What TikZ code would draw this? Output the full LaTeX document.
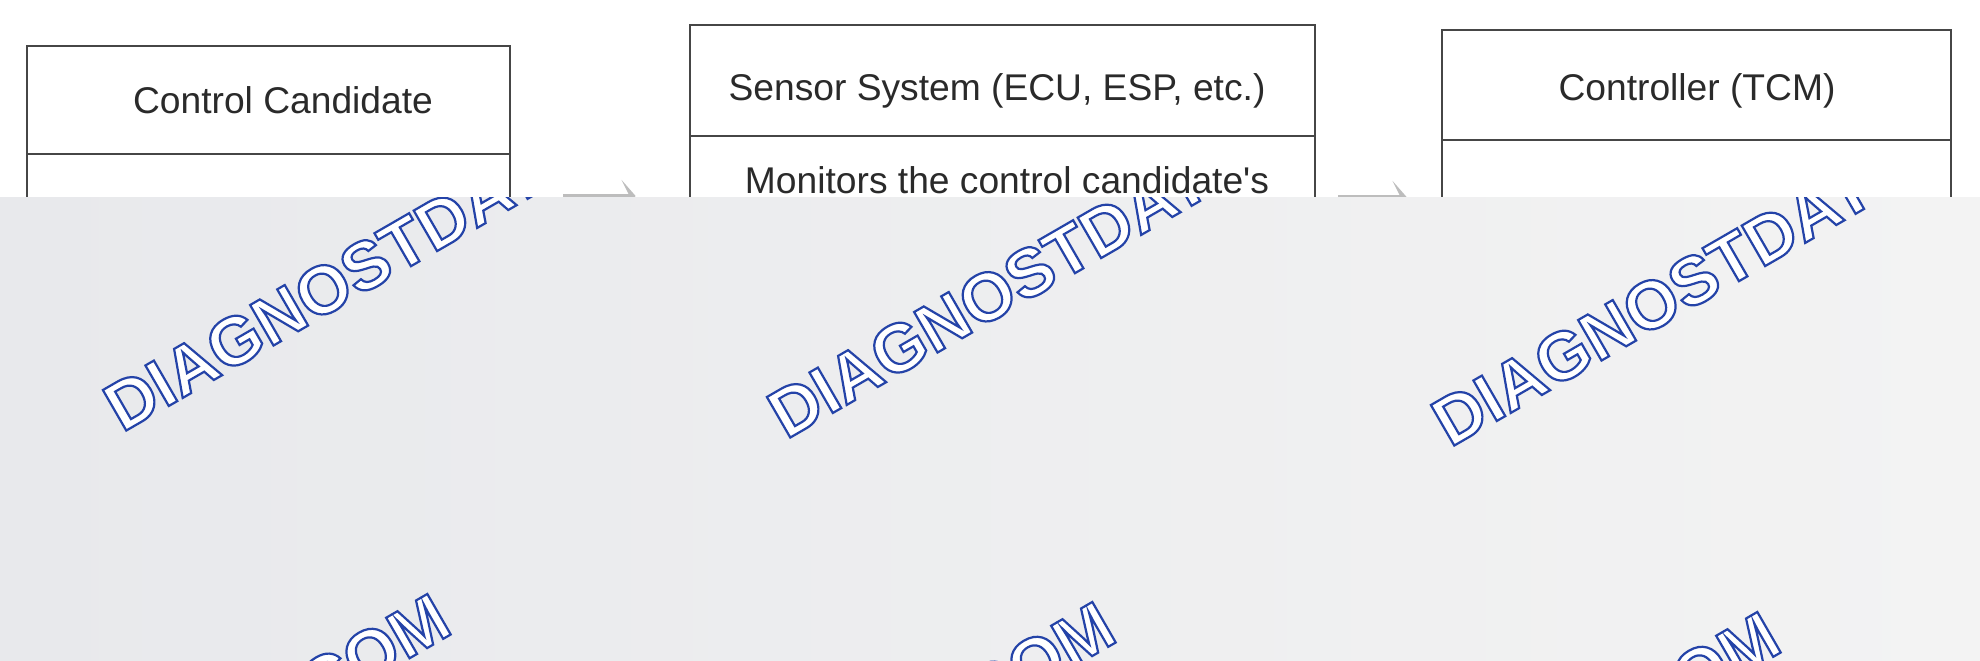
\documentclass[tikz,border=0pt]{standalone}
\usepackage{fontspec}
\setmainfont{Liberation Sans}
\usetikzlibrary{arrows.meta}
\definecolor{boxline}{HTML}{464646}
\definecolor{txt}{HTML}{2A2A2A}
\definecolor{arrowgray}{HTML}{BDBDBD}
\definecolor{ovlL}{HTML}{E8E9EC}
\definecolor{ovlM}{HTML}{DFDFE0}
\definecolor{ovlR}{HTML}{F3F3F3}
\newcommand{\outlinetext}[1]{\special{pdf:literal direct 2 Tr 1.1 w 0.141 0.263 0.659 RG}#1}
\begin{document}
\begin{tikzpicture}[x=0.5pt,y=-0.5pt,
  box/.style={draw=boxline, line width=1.4pt, fill=white, inner sep=0pt},
  divider/.style={draw=boxline, line width=1.4pt},
  lbl/.style={font=\fontsize{18.6pt}{22pt}\selectfont, text=txt, anchor=base, inner sep=0pt},
  conn/.style={draw=arrowgray, line width=1.6pt, -{Stealth[length=7pt,width=16pt,inset=4pt]}},
  wm/.style={font=\fontsize{34pt}{40pt}\selectfont\bfseries, text=white, rotate=30, inner sep=0pt}]
\useasboundingbox[fill=white] (0,0) rectangle (1980,660);

% boxes
\node[box, minimum width=241.5pt, minimum height=227pt] (b1) at (268.5,273) {};
\node[box, minimum width=312.5pt, minimum height=237.5pt] (b2) at (1002.5,262.5) {};
\node[box, minimum width=254.5pt, minimum height=235pt] (b3) at (1696.5,265) {};
\draw[divider] (27,154) -- (510,154);
\draw[divider] (690,136) -- (1315,136);
\draw[divider] (1442,140) -- (1951,140);

% labels
\node[lbl] (t1) at (283,113) {Control Candidate};
\node[lbl] (t2) at (997,100) {Sensor System (ECU, ESP, etc.)};
\node[lbl] (t3) at (1697,100) {Controller (TCM)};
\node[lbl] (t4) at (1007,193) {Monitors the control candidate\textquotesingle s};

% connectors
\draw[conn, shorten <=26pt, shorten >=26.5pt] (b1.east |- 0,196) -- (b2.west |- 0,196);
\draw[conn, shorten <=11pt, shorten >=17pt] (b2.east |- 0,197) -- (b3.west |- 0,197);

% overlay
\fill[left color=ovlL, middle color=ovlM, right color=ovlR] (0,197) rectangle (1980,660);

% watermark (visible fragments)
\begin{scope}
\clip (0,197) rectangle (1980,660);
\node[wm, anchor=base west] (w1) at (122,433) {\outlinetext{DIAGNOSTDAT}};
\node[wm, anchor=base west] (w2) at (786,440) {\outlinetext{DIAGNOSTDAT}};
\node[wm, anchor=base west] (w3) at (1450,448) {\outlinetext{DIAGNOSTDAT}};
\node[wm, anchor=base east] (w4) at (455,632) {\outlinetext{COM}};
\node[wm, anchor=base east] (w5) at (1120,640) {\outlinetext{COM}};
\node[wm, anchor=base east] (w6) at (1785,650) {\outlinetext{COM}};
\end{scope}
\end{tikzpicture}
\end{document}
